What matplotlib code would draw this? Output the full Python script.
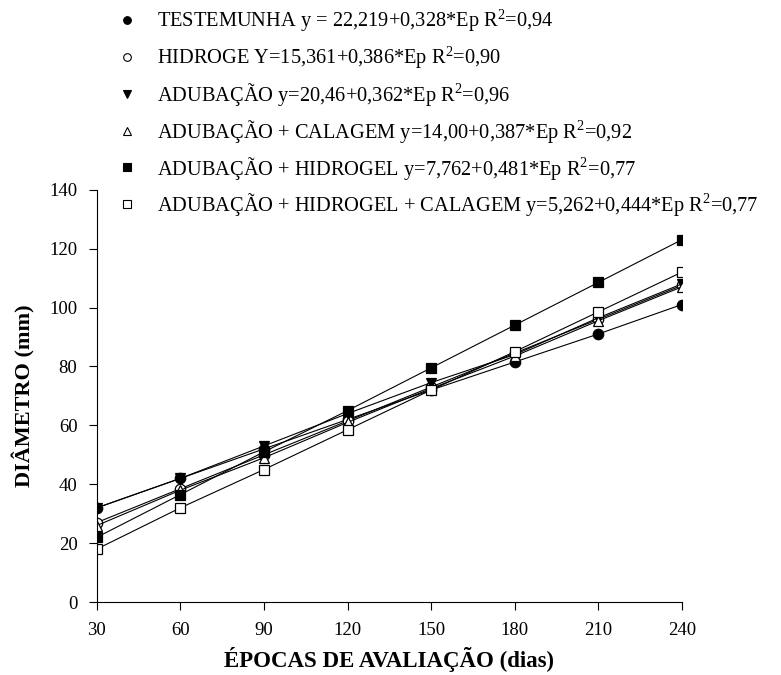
import matplotlib
matplotlib.use("Agg")
import matplotlib.pyplot as plt
from matplotlib.lines import Line2D

plt.rcParams["font.family"] = "Liberation Serif"
plt.rcParams["mathtext.fontset"] = "custom"
plt.rcParams["mathtext.rm"] = "Liberation Serif"

# dados
epocas = [30, 60, 90, 120, 150, 180, 210, 240]
testemunha = [32, 42, 52, 62, 72, 81.5, 91, 101]
hidroge = [27, 38.5, 50, 61.5, 73, 84.5, 96, 107.5]
adubacao = [32, 42, 53, 64, 74.5, 84, 96.5, 108]
adub_cal = [26, 38, 49, 61, 72.5, 83.5, 95.5, 107]
adub_hid = [22, 36.5, 51, 65, 79.5, 94, 108.5, 123]
adub_hid_cal = [18, 32, 45, 58.5, 72, 85, 98.5, 112]

labels = [
    "TESTEMUNHA y = 22,219+0,328*Ep R$^{2}$=0,94",
    "HIDROGE Y=15,361+0,386*Ep R$^{2}$=0,90",
    "ADUBAÇÃO y=20,46+0,362*Ep R$^{2}$=0,96",
    "ADUBAÇÃO + CALAGEM y=14,00+0,387*Ep R$^{2}$=0,92",
    "ADUBAÇÃO + HIDROGEL y=7,762+0,481*Ep R$^{2}$=0,77",
    "ADUBAÇÃO + HIDROGEL + CALAGEM y=5,262+0,444*Ep R$^{2}$=0,77",
]
series = [testemunha, hidroge, adubacao, adub_cal, adub_hid, adub_hid_cal]
markers = ["o", "o", "v", "^", "s", "s"]
faces = ["black", "white", "black", "white", "black", "white"]

fig = plt.figure(figsize=(7.81, 6.75), dpi=100)
ax = fig.add_axes([0.124, 0.108, 0.749, 0.611])

handles = []
for y, m, fc, lab in zip(series, markers, faces, labels):
    ax.plot(epocas, y, color="black", linewidth=0.8, marker=m,
            markersize=7.5, markerfacecolor=fc, markeredgecolor="black",
            markeredgewidth=0.9)
    handles.append(Line2D([0], [0], linestyle="none", marker=m,
                          markersize=5.5, markerfacecolor=fc,
                          markeredgecolor="black", markeredgewidth=0.8,
                          label=lab))

ax.set_xlim(30, 240)
ax.set_ylim(0, 140)
ax.set_xticks(epocas)
ax.set_yticks(range(0, 141, 20))
ax.spines["top"].set_visible(False)
ax.spines["right"].set_visible(False)
ax.tick_params(direction="out", length=6, labelsize=13.5, pad=8)
ax.set_xlabel("ÉPOCAS DE AVALIAÇÃO (dias)", fontsize=16.5, fontweight="bold",
              labelpad=6)
ax.set_ylabel("DIÂMETRO (mm)", fontsize=16, fontweight="bold", labelpad=10)

fig.legend(handles=handles, loc="upper left", bbox_to_anchor=(0.131, 1.01),
           frameon=False, fontsize=14.7, handlelength=1.0, handletextpad=1.0,
           labelspacing=0.48, borderpad=0.2)

fig.savefig("out.png", dpi=100)
